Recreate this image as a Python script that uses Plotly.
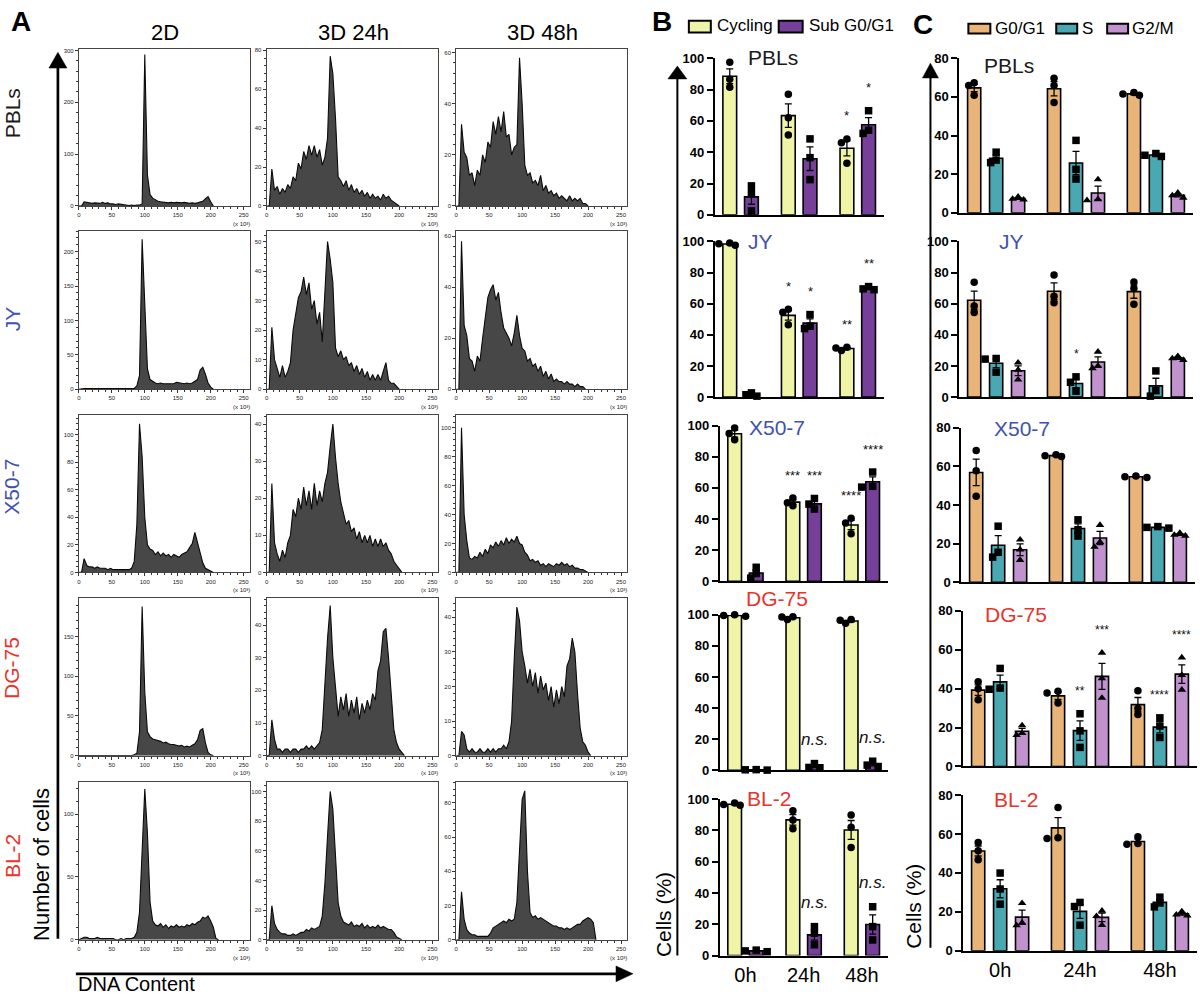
import numpy as np
import plotly.graph_objects as go

W, H = 1200, 1003
FONT = "Liberation Sans, Arial, Helvetica, sans-serif"
BLUE = "#3F52AE"
RED = "#E8342B"

# ---------------- Panel A: DNA-content histograms ----------------
BIN = 4  # bin width on the DNA-content axis (x 10^3), first bin at 0
pbl_2d = [0,0,8,7,6,5,6,5,5,7, 5,6,4,4,3,4,3,2,2,1, 2,1,2,2,4,292,60,22,15,12,
          9,8,7,7,6,7,6,7,6,6, 7,6,5,6,5,6,8,9,14,18, 8,0]
pbl_3d24 = [0,0,19,8,10,6,9,7,11,9, 15,13,22,19,28,24,31,26,31,25, 29,21,25,35,77,68,45,15,13,10,
            13,8,11,7,9,6,8,5,7,4, 6,4,5,3,6,4,5,3,2,1, 0]
pbl_3d48 = [0,0,32,21,19,12,13,8,14,12, 20,17,25,23,33,28,35,29,37,27, 28,20,23,24,58,40,16,12,13,9,
            10,8,12,6,8,5,6,4,5,3, 4,3,2,4,2,3,2,3,1,1, 0]
jy_2d = [0,1,1,1,1,0,1,0,0,1, 0,0,0,0,0,0,0,0,0,0, 0,1,5,20,218,110,30,14,11,9,
         8,9,8,8,7,8,8,10,9,8, 8,9,8,9,11,14,28,32,22,9, 3,0]
jy_3d24 = [0,0,21,10,7,4,8,4,6,9, 20,26,31,33,38,32,36,27,30,22, 26,16,35,50,44,36,14,11,13,10,
           11,8,9,6,8,5,7,4,6,3, 5,3,5,3,6,9,3,2,2,1, 0]
jy_3d48 = [0,0,58,25,21,12,11,7,13,11, 20,27,36,39,41,35,38,30,24,22, 20,17,22,29,21,16,15,11,12,9,
           10,7,9,5,7,4,6,3,4,3, 3,2,3,2,2,1,2,1,1,0]
x50_2d = [0,0,10,5,4,4,3,4,3,3, 3,2,3,2,2,2,2,2,2,2, 3,8,35,108,84,40,20,17,16,13,
          15,12,14,12,13,11,13,12,11,13, 14,15,18,21,29,22,15,7,3,2, 1,0]
x50_3d24 = [0,0,24,8,5,3,6,4,8,10, 17,15,20,17,23,18,22,17,24,18, 22,19,24,27,34,40,31,24,19,16,
            13,14,11,12,9,11,8,10,8,10, 7,9,7,9,7,8,6,5,3,2, 1,0]
x50_3d48 = [0,0,100,40,22,10,9,11,10,14, 11,16,13,19,17,21,18,22,19,24, 20,23,21,25,20,19,14,12,8,9,
            7,8,5,6,4,6,5,4,6,5, 7,5,6,4,5,3,3,2,2,1, 0]
dg_2d = [0,0,0,0,0,0,0,0,0,0, 0,0,0,0,0,0,0,0,0,0, 0,1,3,30,188,80,30,24,21,20,
         19,18,16,17,15,14,14,13,12,13, 11,12,11,13,15,20,32,34,16,4, 1,0]
dg_3d24 = [0,0,11,5,2,2,1,2,2,1, 2,2,1,2,2,3,2,3,2,3, 4,8,22,36,46,30,21,12,18,14,
           19,12,17,13,18,11,16,13,17,14, 19,17,26,29,38,39,30,18,8,4, 2,1,0]
dg_3d48 = [0,0,7,6,2,1,2,1,1,2, 1,1,2,1,2,1,2,2,3,2, 4,10,28,43,39,30,26,21,25,20,
           24,18,23,19,21,16,20,14,19,15, 20,17,26,28,34,30,18,8,4,3, 1,0]
bl_2d = [0,1,2,2,1,1,1,2,1,1, 1,1,1,1,0,0,1,0,1,1, 1,2,6,22,70,120,85,30,15,12,
         11,13,10,12,9,11,10,12,10,11, 10,12,11,13,12,14,15,18,17,19, 15,10,1,0]
bl_3d24 = [0,0,23,11,7,5,4,4,3,3, 4,3,4,5,5,7,6,8,7,8, 9,16,38,70,100,88,55,25,16,12,
           11,10,12,9,10,9,11,8,10,8, 9,8,10,8,9,8,7,7,5,2, 1,0]
bl_3d48 = [0,0,28,12,6,4,3,3,2,2, 2,2,2,4,7,8,9,10,11,10, 12,11,12,22,50,82,87,40,16,13,
           14,12,13,12,11,10,9,8,8,7, 7,6,7,6,7,8,9,9,11,12, 13,12,10,0]

hist_cols = ["2D", "3D 24h", "3D 48h"]
cell_lines = ["PBLs", "JY", "X50-7", "DG-75", "BL-2"]
line_colors = ["#1a1a1a", BLUE, BLUE, RED, RED]
hist_data = [[pbl_2d, pbl_3d24, pbl_3d48],
             [jy_2d, jy_3d24, jy_3d48],
             [x50_2d, x50_3d24, x50_3d48],
             [dg_2d, dg_3d24, dg_3d48],
             [bl_2d, bl_3d24, bl_3d48]]
hist_ymax = [[302, 80.5, 61.3], [230.7, 53.7, 62.2], [114.5, 42.5, 109],
             [198.8, 48.3, 45.6], [125.3, 106.2, 92]]
hist_dtick = [[100, 20, 20], [50, 10, 20], [20, 10, 20], [50, 10, 10], [50, 20, 20]]

# ---------------- Panel B: Cycling vs Sub G0/G1 (%), replicates at 0h/24h/48h ----------------
times = ["0h", "24h", "48h"]
b_pbl_cycling = [[97.5, 86.5, 81.5], [77, 62, 51], [48.5, 46, 33]]
b_pbl_sub = [[18.5, 13.5, 2.5], [48.5, 36.5, 22.5], [66.5, 54, 52]]
b_jy_cycling = [[97.5, 98.5, 99], [56.5, 54.5, 46.5], [30, 31.5, 32]]
b_jy_sub = [[1.5, 2.7, 0.6], [53, 45.5, 44], [69, 71, 69.5]]
b_x50_cycling = [[98.5, 95, 91], [53.5, 48.5, 50.5], [40.5, 37.5, 30.5]]
b_x50_sub = [[9, 5, 2], [53.2, 46.4, 49.6], [70.2, 61, 60.5]]
b_dg_cycling = [[99, 99.5, 100], [97, 98.5, 98.8], [94.5, 96.5, 97]]
b_dg_sub = [[0.2, 0.4, 0.5], [4.4, 1.7, 1.9], [5.9, 3.4, 2.5]]
b_bl_cycling = [[96, 96.5, 97.5], [92.5, 86.5, 81], [89.7, 82, 69]]
b_bl_sub = [[2.5, 3.5, 3], [18.5, 14.3, 6.9], [31.2, 18.5, 10]]
b_sig = [[(2, 0, "*"), (2, 1, "*")],
         [(1, 0, "*"), (1, 1, "*"), (2, 0, "**"), (2, 1, "**")],
         [(1, 0, "***"), (1, 1, "***"), (2, 0, "****"), (2, 1, "****")],
         [(1, 1, "n.s."), (2, 1, "n.s.")],
         [(1, 1, "n.s."), (2, 1, "n.s.")]]

# ---------------- Panel C: G0/G1, S, G2/M (%) ----------------
c_pbl_g0 = [[67.3, 65.9, 60.8], [69.6, 65.9, 57.1], [60.8, 61.5, 62.3]]
c_pbl_s = [[31.4, 27.3, 26], [37.5, 22.5, 17.5], [29.2, 29.8, 30.7]]
c_pbl_g2 = [[8.3, 7.2, 6.8], [17.3, 7, 6.5], [10.4, 7.8, 9]]
c_jy_g0 = [[73.7, 58.5, 54.3], [78.5, 64.8, 60.6], [73.9, 69.7, 59.6]]
c_jy_s = [[24.8, 24.4, 16], [13, 9.5, 3.8], [16.8, 4.2, 0.6]]
c_jy_g2 = [[22.1, 17.5, 11.2], [29.1, 20, 18.5], [26.3, 24.8, 23.8]]
c_x50_g0 = [[68.2, 57.7, 44.5], [65, 65.5, 66], [54.2, 54.6, 55]]
c_x50_s = [[29, 15.5, 13], [32.3, 27.2, 23.9], [28, 28.4, 28.8]]
c_x50_g2 = [[22, 16.9, 11.5], [29.6, 20.8, 18.3], [24.5, 25.5, 24]]
c_dg_g0 = [[43.5, 39.9, 34.3], [38.6, 37.7, 32.6], [38.9, 29.8, 26.7]]
c_dg_s = [[50.4, 40.3, 39.7], [27.1, 18.3, 9.8], [25, 20.8, 14.9]]
c_dg_g2 = [[21.1, 17.1, 16.1], [58.4, 45.3, 35.2], [56, 47, 39.4]]
c_bl_g0 = [[55.6, 51.4, 46.7], [73.6, 58.1, 57.6], [58.6, 55.1, 54.7]]
c_bl_s = [[39.9, 31.7, 23.9], [24.8, 22.7, 13.1], [27.5, 24.5, 22.5]]
c_bl_g2 = [[24.4, 14.3, 13], [20.5, 17.7, 13.1], [20.2, 18.5, 18]]
c_sig = [[], [(1, 1, "*")], [],
         [(1, 1, "**"), (1, 2, "***"), (2, 1, "****"), (2, 2, "****")], []]

B_SERIES = ["Cycling", "Sub G0/G1"]
C_SERIES = ["G0/G1", "S", "G2/M"]
b_data = [[b_pbl_cycling, b_pbl_sub], [b_jy_cycling, b_jy_sub], [b_x50_cycling, b_x50_sub],
          [b_dg_cycling, b_dg_sub], [b_bl_cycling, b_bl_sub]]
c_data = [[c_pbl_g0, c_pbl_s, c_pbl_g2], [c_jy_g0, c_jy_s, c_jy_g2], [c_x50_g0, c_x50_s, c_x50_g2],
          [c_dg_g0, c_dg_s, c_dg_g2], [c_bl_g0, c_bl_s, c_bl_g2]]

B_COLORS = ["#F0F4A6", "#76409A"]
C_COLORS = ["#E8B477", "#4AA8B2", "#C292CF"]
B_SYMBOLS = ["circle", "square"]
C_SYMBOLS = ["circle", "square", "triangle-up"]

# ---------------- layout helpers ----------------
fig = go.Figure()
layout = dict(width=W, height=H, margin=dict(l=0, r=0, t=0, b=0), paper_bgcolor="white",
              plot_bgcolor="rgba(0,0,0,0)", showlegend=False, barmode="overlay",
              font=dict(family=FONT, color="black"))
annotations, shapes = [], []
counter = [0]


def px(x):
    return x / W


def py(y):
    return 1 - y / H


def add_axes(xd, yd, xcfg, ycfg):
    counter[0] += 1
    n = counter[0]
    s = "" if n == 1 else str(n)
    layout["xaxis" + s] = dict(domain=[px(xd[0]), px(xd[1])], anchor="y" + s, **xcfg)
    layout["yaxis" + s] = dict(domain=[py(yd[1]), py(yd[0])], anchor="x" + s, **ycfg)
    return "x" + s, "y" + s


def text(x, y, t, size, color="black", xa="center", ya="middle", angle=0, bold=False, italic=False):
    annotations.append(dict(xref="paper", yref="paper", x=px(x), y=py(y), text=t, showarrow=False,
                            xanchor=xa, yanchor=ya, textangle=angle,
                            font=dict(family=FONT, size=size, color=color,
                                      weight="bold" if bold else "normal",
                                      style="italic" if italic else "normal")))


def swarm(vals, ppu_y, ppu_x, d=5.8, step=5.5):
    placed, offs = [], [0.0] * len(vals)
    for i in sorted(range(len(vals)), key=lambda k: -vals[k]):
        yp = vals[i] * ppu_y
        c = 0.0
        for c in (0.0, -step, step, -2 * step, 2 * step):
            if all((c - ox) ** 2 + (yp - oy) ** 2 >= d * d for ox, oy in placed):
                break
        placed.append((c, yp))
        offs[i] = c / ppu_x
    return offs


# ---------------- Panel A ----------------
hist_x = [(77, 248), (265, 437), (455, 626)]
hist_y = [(43, 202), (227, 388), (414, 574), (600, 760), (787, 947)]
for r in range(5):
    for c in range(3):
        vals = hist_data[r][c]
        dt = hist_dtick[r][c]
        tick_common = dict(ticks="outside", ticklen=3, tickwidth=0.8, tickcolor="#333",
                           tickfont=dict(size=6, color="#222", family=FONT), showline=True, mirror=True,
                           linecolor="#444", linewidth=1, showgrid=False, zeroline=False, fixedrange=True)
        xcfg = dict(range=[0, 259], tick0=0, dtick=50,
                    minor=dict(ticks="outside", ticklen=2, tickwidth=0.6, tickcolor="#333", dtick=10),
                    **tick_common)
        ycfg = dict(range=[0, hist_ymax[r][c]], tick0=0, dtick=dt,
                    minor=dict(ticks="outside", ticklen=2, tickwidth=0.6, tickcolor="#333", dtick=dt / 5),
                    **tick_common)
        xa, ya = add_axes(hist_x[c], hist_y[r], xcfg, ycfg)
        fig.add_trace(go.Scatter(x=np.arange(len(vals)) * BIN, y=vals, xaxis=xa, yaxis=ya, mode="lines",
                                 line=dict(color="#0a0a0a", width=1.1), fill="tozeroy", fillcolor="#474747",
                                 hoverinfo="skip"))
        text(hist_x[c][1] + 2, hist_y[r][1] + 18, "(x 10³)", 6, "#222", xa="right")

for c, title in enumerate(hist_cols):
    text((hist_x[c][0] + hist_x[c][1]) / 2 + 1, 26, title, 22)
row_label_y = [108, 316, 487, 671, 862]
for r, name in enumerate(cell_lines):
    text(10, row_label_y[r], name, 21, line_colors[r], angle=-90)
text(19, 15, "A", 28, bold=True)
text(40, 870, "Number of cells", 22, angle=-90)
text(74, 992, "DNA Content", 20, xa="left")


def arrow_v(x, ytop, ybot, hw, hh, lw):
    shapes.append(dict(type="line", xref="paper", yref="paper", x0=px(x), x1=px(x), y0=py(ybot),
                       y1=py(ytop + hh - 1), line=dict(color="black", width=lw)))
    shapes.append(dict(type="path", xref="paper", yref="paper",
                       path=f"M {px(x - hw)},{py(ytop + hh)} L {px(x + hw)},{py(ytop + hh)} L {px(x)},{py(ytop)} Z",
                       fillcolor="black", line=dict(color="black", width=0.5)))


arrow_v(56, 46, 946, 9, 16, 2.7)
arrow_v(676.5, 60, 963, 9.5, 13, 2)
arrow_v(930, 57, 955, 8, 15, 2)
# horizontal arrow for DNA content
shapes.append(dict(type="line", xref="paper", yref="paper", x0=px(74), x1=px(616), y0=py(981.5), y1=py(981.5),
                   line=dict(color="black", width=2.7)))
shapes.append(dict(type="path", xref="paper", yref="paper",
                   path=f"M {px(615)},{py(973.5)} L {px(615)},{py(989.5)} L {px(632)},{py(981.5)} Z",
                   fillcolor="black", line=dict(color="black", width=0.5)))


# ---------------- Panels B and C ----------------
def bar_panel(data, series_colors, symbols, offsets, width, xdom, ydom, ymax, xr, label, lab_pos,
              lab_color, sigs, bottom, star_size):
    ycfg = dict(range=[0, ymax], tick0=0, dtick=20, ticks="outside", ticklen=6, tickwidth=2, tickcolor="black",
                showline=True, linewidth=2, linecolor="black", showgrid=False, zeroline=False, fixedrange=True,
                tickfont=dict(size=13, family=FONT, weight="bold", color="black"))
    xcfg = dict(range=xr, showline=True, linewidth=2, linecolor="black", ticks="", showgrid=False,
                zeroline=False, fixedrange=True, showticklabels=bottom)
    if bottom:
        xcfg.update(tickmode="array", tickvals=[0, 1, 2], ticktext=times,
                    tickfont=dict(size=20, family=FONT, color="black"))
    xa, ya = add_axes(xdom, ydom, xcfg, ycfg)
    ppu_y = (ydom[1] - ydom[0]) / ymax
    ppu_x = (xdom[1] - xdom[0]) / (xr[1] - xr[0])
    tops = {}
    for s, reps in enumerate(data):
        means = [float(np.mean(v)) for v in reps]
        sems = [float(np.std(v, ddof=1) / np.sqrt(len(v))) for v in reps]
        xs = [g + offsets[s] for g in range(3)]
        fig.add_trace(go.Bar(x=xs, y=means, width=width, xaxis=xa, yaxis=ya, hoverinfo="skip",
                             marker=dict(color=series_colors[s], line=dict(color="black", width=1.6)),
                             error_y=dict(type="data", array=sems, visible=True, color="black",
                                          thickness=1.3, width=3.5)))
        px_, py_ = [], []
        for g, v in enumerate(reps):
            offs = swarm(v, ppu_y, ppu_x)
            px_ += [xs[g] + o for o in offs]
            py_ += list(v)
            tops[(g, s)] = max(max(v), means[g] + sems[g])
        fig.add_trace(go.Scatter(x=px_, y=py_, xaxis=xa, yaxis=ya, mode="markers", cliponaxis=False,
                                 hoverinfo="skip",
                                 marker=dict(color="black", size=7.5, symbol=symbols[s], line=dict(width=0))))
    for g, s, lab in sigs:
        ns = lab == "n.s."
        annotations.append(dict(xref=xa, yref=ya, x=g + offsets[s], y=tops[(g, s)], showarrow=False,
                                text="<i>n.s.</i>" if ns else lab, yanchor="middle", xanchor="center",
                                yshift=24 if ns else 23,
                                font=dict(family=FONT, size=17 if ns else star_size, color="#111")))
    text(lab_pos[0], lab_pos[1], label, 21, lab_color, xa="left")


b_xdom = [(714, 883), (714, 883), (719, 887), (719, 887), (719, 887)]
b_ydom = [(52, 211), (238, 396), (425, 583), (617, 775), (804, 963)]
b_lab = [(745, 51), (745, 238), (746, 427), (743, 600), (744, 804)]
c_xdom = [(959, 1193), (959, 1193), (961, 1195), (963, 1197), (963, 1197)]
c_ydom = [(52, 209), (238, 396), (427, 584), (613, 771), (800, 958)]
c_ymax = [80, 100, 80, 80, 80]
c_lab = [(982, 59), (997, 238), (992, 428), (983, 617), (992, 805)]

for r in range(5):
    bar_panel(b_data[r], B_COLORS, B_SYMBOLS, [-0.185, 0.185], 0.235, b_xdom[r], b_ydom[r], 100,
              [-0.44, 2.44], cell_lines[r], b_lab[r], line_colors[r], b_sig[r], r == 4, 13)
    bar_panel(c_data[r], C_COLORS, C_SYMBOLS, [-0.275, 0.0, 0.275], 0.165, c_xdom[r], c_ydom[r], c_ymax[r],
              [-0.46, 2.465], cell_lines[r], c_lab[r], line_colors[r], c_sig[r], r == 4, 12)

text(662, 921, "Cells (%)", 21, angle=-90)
text(913, 913, "Cells (%)", 21, angle=-90)
text(661, 15, "B", 28, bold=True)
text(923, 18, "C", 28, bold=True)


def legend_item(x0, x1, y0, y1, color, label, tx, ty):
    shapes.append(dict(type="rect", xref="paper", yref="paper", x0=px(x0), x1=px(x1), y0=py(y1), y1=py(y0),
                       fillcolor=color, line=dict(color="black", width=2)))
    text(tx, ty, label, 17, xa="left")


legend_item(688, 710, 14, 26, B_COLORS[0], B_SERIES[0], 714, 19)
legend_item(778, 802, 14, 26, B_COLORS[1], B_SERIES[1], 806, 19)
legend_item(968, 990, 17, 27, C_COLORS[0], C_SERIES[0], 993, 22)
legend_item(1056, 1077, 17, 27, C_COLORS[1], C_SERIES[1], 1080, 22)
legend_item(1107, 1128, 17, 27, C_COLORS[2], C_SERIES[2], 1130, 22)

layout["annotations"] = annotations
layout["shapes"] = shapes
fig.update_layout(**layout)
fig.write_html("out.html")
